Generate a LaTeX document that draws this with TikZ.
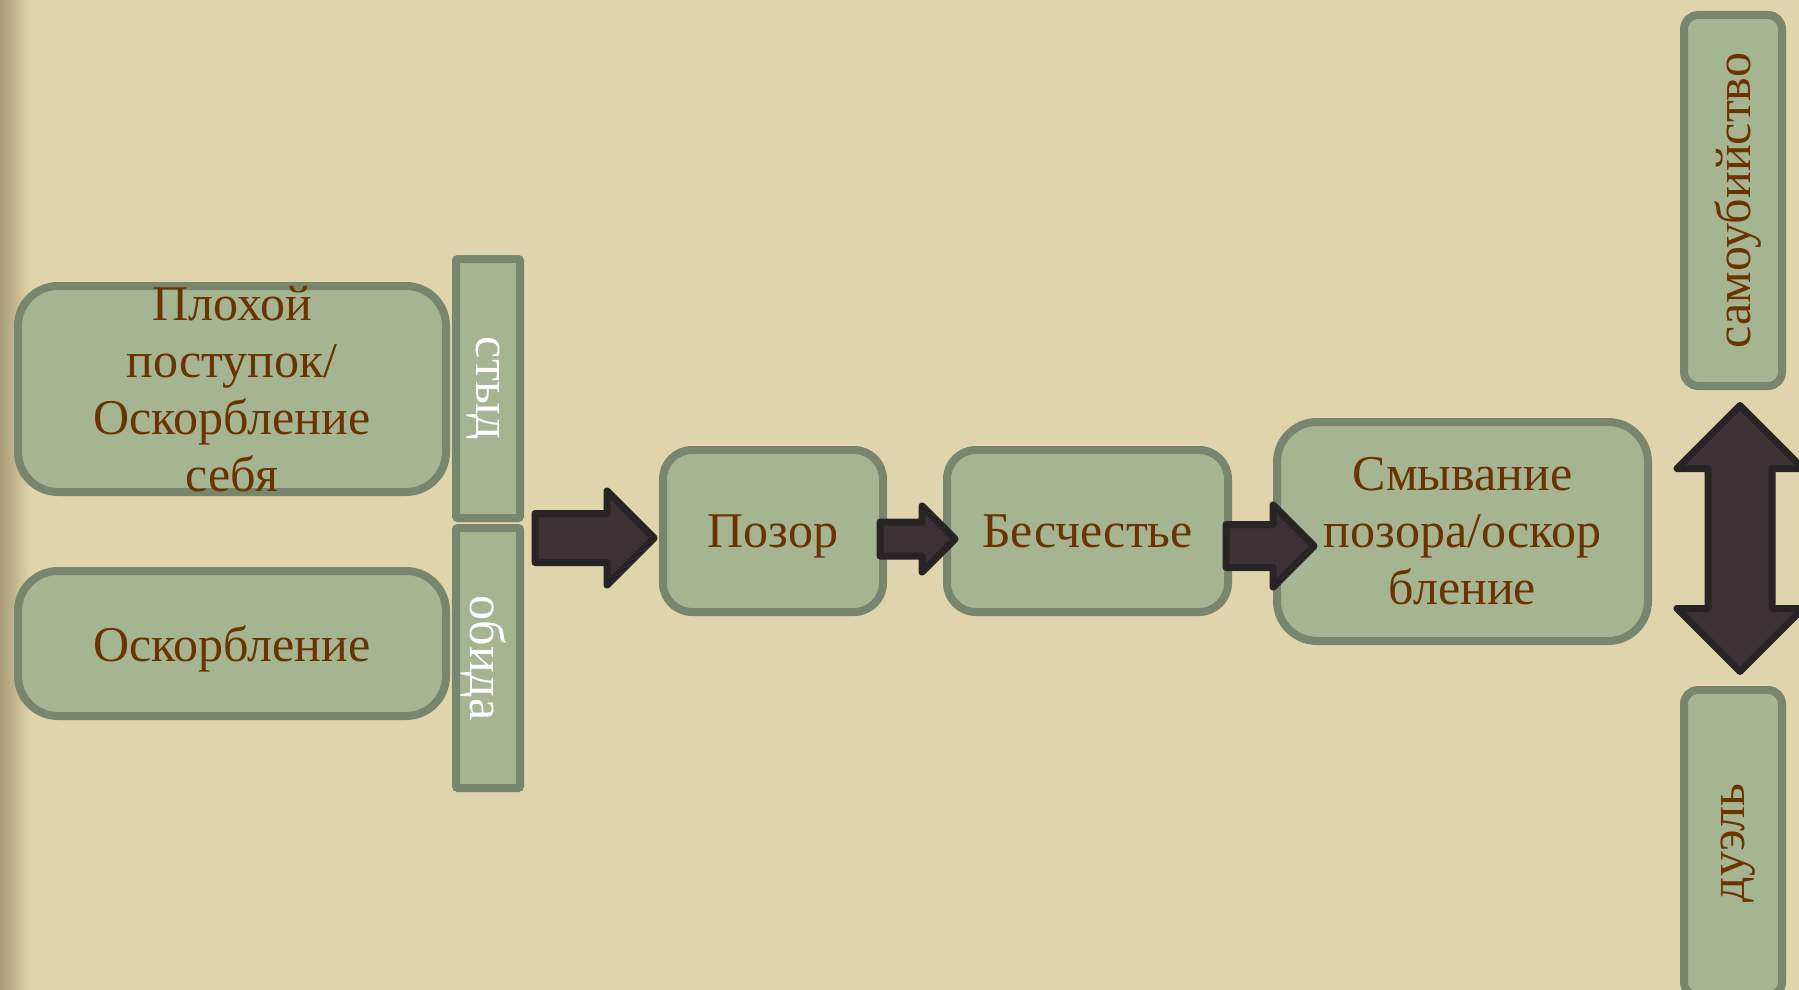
\documentclass[tikz,border=0pt]{standalone}
\usepackage{fontspec}
\setmainfont{Liberation Serif}
\usetikzlibrary{shapes.arrows}
\definecolor{paper}{HTML}{E0D4AC}
\definecolor{paperdark}{HTML}{A89A74}
\definecolor{boxfill}{HTML}{A5B592}
\definecolor{boxline}{HTML}{78866E}
\definecolor{arrowfill}{HTML}{3A3235}
\definecolor{arrowline}{HTML}{282325}
\definecolor{txtbrown}{HTML}{6B3300}
\begin{document}
\begin{tikzpicture}[x=1pt,y=-1pt,
	box/.style={draw=boxline,fill=boxfill,line width=8pt,rounded corners=#1,inner sep=0pt,align=center,text=txtbrown,font=\fontsize{50}{57}\selectfont},
	box/.default=30pt,
	txt/.style={inner sep=0pt,align=center,text=txtbrown,font=\fontsize{50}{57}\selectfont},
	feel/.style={draw=boxline,fill=boxfill,line width=8pt,rounded corners=2pt,inner sep=0pt,rotate=-90,text depth=0pt,text=white,font=\fontsize{50}{57}\selectfont},
	blockarrow/.style={single arrow,draw=arrowline,fill=arrowfill,line width=7pt,line join=round,inner sep=0pt,text depth=0pt,single arrow head indent=0pt,anchor=tip}]
	\useasboundingbox (0,0) rectangle (1799,990);
	\fill[paper] (0,0) rectangle (1799,990);
	\shade[left color=paperdark,right color=paper] (0,0) rectangle (30,990);
	% left column
	\node[box=40pt,minimum width=428pt,minimum height=206pt] (deed) at (232,389) {};
	\node[txt] (deedtext) at (deed) {Плохой\\поступок/\\Оскорбление\\себя};
	\node[box=40pt,minimum width=428pt,minimum height=145pt,text depth=0pt] (insult) at (232,643.5) {Оскорбление};
	\node[feel,minimum width=259pt,minimum height=64pt] (shame) at (488,388.5) {стыд};
	\node[feel,minimum width=260pt,minimum height=64pt] (offence) at (488,658) {обида};
	% chain
	\node[box=29pt,minimum width=220pt,minimum height=162pt,text depth=0pt] (disgrace) at (773,531) {Позор};
	\node[box=29pt,minimum width=281pt,minimum height=162pt] (dishonour) at (1087.5,531) {Бесчестье};
	\node[box=40pt,minimum width=371pt,minimum height=219pt] (washing) at (1462.5,531.5) {Смывание\\позора/оскор\\бление};
	\node[box=14pt,rotate=90,minimum width=371pt,minimum height=98pt,text depth=0pt] (suicide) at (1733,200.5) {самоубийство};
	\node[box=14pt,rotate=90,minimum width=306pt,minimum height=98pt,text depth=0pt] (duel) at (1733,843) {дуэль};
	% arrows
	\node[blockarrow,text height=42pt,single arrow head extend=22.5pt,minimum height=119pt] (arrA) at (659,538) {};
	\node[blockarrow,text height=27pt,single arrow head extend=16pt,minimum height=75pt] (arrB) at (960,539) {};
	\node[blockarrow,text height=36pt,single arrow head extend=19.5pt,minimum height=88pt] (arrC) at (1319,546) {};
	\node[double arrow,draw=arrowline,fill=arrowfill,line width=7pt,line join=round,inner sep=0pt,text height=57pt,text depth=0pt,double arrow head extend=31pt,double arrow head indent=0pt,minimum height=266pt,rotate=90] (choice) at (1740,538.5) {};
\end{tikzpicture}
\end{document}
